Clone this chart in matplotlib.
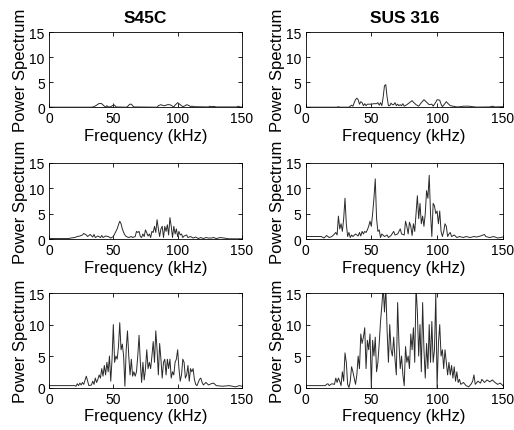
import numpy as np
import matplotlib
matplotlib.use("Agg")
import matplotlib.pyplot as plt

plt.rcParams['font.family'] = ['Liberation Sans', 'DejaVu Sans']

# S45C, top row (low level)
f_s45c_low = [0, 33, 35, 37, 39, 41, 43, 44, 45, 46, 48, 50, 51, 52, 60, 61, 62, 63, 64, 65, 66,
              84, 85, 87, 89, 90, 92, 94, 96, 97, 98, 100, 101, 103, 104, 106, 107, 109, 110, 111,
              113, 124, 125, 126, 128, 130, 146, 147, 148, 150]
p_s45c_low = [0, 0, 0.1, 0.4, 0.75, 0.7, 0.2, 0.05, 0.3, 0.05, 0.1, 0.4, 0.4, 0.05, 0, 0.1, 0.4, 0.6, 0.6, 0.3, 0.05,
              0, 0.3, 0.5, 0.3, 0.3, 0.5, 0.5, 0.2, 0.05, 0.4, 0.9, 0.7, 0.3, 0.1, 0.3, 0.5, 0.3, 0.1, 0.2,
              0.1, 0.05, 0.2, 0.1, 0.15, 0.05, 0.05, 0.2, 0.1, 0]

# SUS 316, top row (low level)
f_sus_low = [0, 24, 25, 26, 33, 35, 36, 37, 38, 39, 40, 41, 42, 43, 44, 45, 46, 47, 48, 50, 52, 54, 55,
             56, 57, 58, 59, 60, 61, 62, 63, 64, 65, 66, 67, 68, 69, 70, 71, 72, 73, 74, 75, 77, 79, 81,
             82, 84, 86, 88, 90, 92, 94, 96, 97, 99, 100, 102, 103, 104, 105, 107, 108, 110, 112, 115,
             118, 120, 124, 127, 130, 140, 142, 144, 150]
p_sus_low = [0, 0, 0.1, 0, 0, 0.4, 0.2, 0.9, 1.5, 1.8, 1.5, 0.6, 1.1, 0.9, 0.3, 0.7, 0.3, 0.6, 0.6, 0.6, 0.7, 0.7, 0.9,
             0.4, 0.9, 0.3, 2.0, 4.3, 4.5, 2.0, 0.3, 0.3, 0.8, 0.5, 0.5, 0.9, 0.3, 0.6, 0.3, 0.5, 0.3, 0.7, 0.2, 0.5, 0.9, 1.3,
             1.0, 0.5, 0.2, 0.9, 1.5, 1.0, 0.5, 0.6, 0.2, 1.0, 1.5, 1.4, 0.6, 0.1, 0.4, 1.1, 0.8, 0.3, 0.2, 0.05,
             0.1, 0.2, 0.2, 0.1, 0.02, 0.05, 0.2, 0.05, 0.1]

# S45C, middle row
f_s45c_mid = [0, 15, 17, 20, 22, 24, 26, 27, 29, 30, 32, 34, 35, 36, 38, 40, 41, 42, 44, 46, 48, 50,
              52, 53, 54, 55, 56, 57, 58, 59, 60, 62, 64, 65, 67, 68, 69, 70, 71, 72, 73, 74, 75, 76, 77,
              78, 79, 80, 81, 82, 83, 84, 85, 86, 87, 88, 89, 90, 91, 92, 93, 94, 95, 96, 97, 98, 99,
              100, 101, 102, 103, 104, 105, 107, 108, 110, 112, 114, 116, 118, 120, 122, 124, 126, 128,
              130, 133, 136, 140, 150]
p_s45c_mid = [0.1, 0.1, 0.2, 0.3, 0.5, 0.6, 0.8, 1.1, 0.8, 0.5, 0.9, 0.4, 0.9, 0.3, 0.6, 0.3, 0.7, 0.3, 0.6, 0.5, 0.2, 0.5,
              1.5, 2.0, 2.8, 3.5, 3.0, 2.0, 1.3, 0.8, 0.5, 0.3, 0.5, 0.3, 0.5, 1.5, 1.3, 1.5, 0.5, 0.3, 1.0, 0.5, 1.8, 1.2, 0.6,
              1.0, 0.3, 1.5, 1.3, 2.5, 1.3, 3.8, 2.0, 0.5, 2.0, 2.5, 0.3, 2.5, 1.5, 2.8, 0.8, 4.2, 2.5, 0.3, 2.5, 1.0, 2.0,
              0.5, 1.5, 0.8, 1.0, 0.3, 0.6, 0.8, 0.3, 0.5, 0.2, 0.4, 0.1, 0.3, 0.1, 0.3, 0.2, 0.2, 0.3,
              0.1, 0.3, 0.2, 0.05, 0.05]

# SUS 316, middle row
f_sus_mid = [0, 12, 14, 16, 18, 20, 22, 23, 24, 25, 26, 27, 28, 29, 30, 31, 32, 33, 34, 35, 36, 38, 40,
             41, 42, 43, 44, 45, 46, 47, 48, 49, 50, 51, 52, 53, 54, 55, 56, 57, 58, 60, 62, 63, 65, 67,
             68, 70, 72, 73, 75, 76, 77, 78, 79, 80, 81, 82, 83, 84, 85, 86, 87, 88, 89, 90, 91, 92, 93,
             94, 95, 96, 97, 98, 99, 100, 101, 102, 103, 104, 105, 106, 107, 108, 109, 110, 111, 113,
             115, 117, 120, 122, 125, 128, 130, 133, 136, 137, 140, 143, 146, 150]
p_sus_mid = [0.5, 0.5, 0.2, 0.7, 0.3, 0.5, 1.0, 1.3, 0.8, 4.5, 2.0, 3.0, 1.5, 4.0, 8.0, 3.0, 0.5, 1.3, 0.3, 0.8, 0.5, 1.0, 0.6,
             1.3, 0.6, 1.5, 1.0, 1.5, 1.3, 1.8, 2.5, 3.5, 2.5, 5.0, 8.0, 11.8, 4.0, 1.5, 1.8, 0.3, 1.0, 0.5, 0.8, 0.3, 0.7, 1.5,
             0.8, 1.0, 2.0, 1.0, 0.8, 3.5, 2.5, 1.0, 3.3, 2.5, 0.7, 3.0, 1.5, 5.0, 8.5, 4.0, 7.0, 3.0, 4.5, 2.5, 5.0, 9.5, 8.0,
             12.5, 5.0, 0.5, 7.0, 6.5, 5.0, 5.5, 3.0, 5.5, 1.5, 0.5, 1.5, 3.0, 2.5, 0.5, 1.0, 1.3, 0.5, 0.8,
             0.3, 0.5, 0.3, 0.5, 0.3, 0.5, 0.4, 0.6, 0.9, 0.5, 0.3, 0.5, 0.2, 0.4]

# S45C, bottom row (high level)
f_s45c_high = [0, 20, 21, 22, 23, 24, 25, 26, 27, 29, 31, 33, 34, 35, 36, 37, 38, 39, 40, 41, 42, 43,
               44, 45, 46, 47, 48, 49, 50, 51, 52, 53, 54, 55, 56, 57, 58, 59, 60, 61, 62, 63, 64, 65,
               66, 67, 68, 69, 70, 71, 72, 73, 74, 75, 76, 77, 78, 79, 80, 81, 82, 83, 84, 85, 86, 87,
               88, 89, 90, 91, 92, 93, 94, 95, 96, 97, 98, 99, 100, 101, 102, 103, 104, 105, 106, 107,
               108, 109, 110, 111, 112, 113, 114, 115, 117, 118, 119, 120, 122, 124, 126, 128, 130,
               135, 140, 145, 148, 150]
p_s45c_high = [0.3, 0.3, 0.2, 0.6, 0.3, 0.7, 0.4, 0.8, 0.5, 1.8, 0.3, 0.4, 1.0, 0.5, 1.5, 0.8, 1.3, 2.0, 1.5, 3.0, 1.8, 3.5,
               2.0, 4.0, 2.5, 5.0, 1.0, 4.5, 10.0, 4.0, 5.0, 4.5, 6.5, 10.3, 6.0, 6.9, 5.0, 0.2, 6.0, 9.0, 5.0, 2.0, 4.5, 1.8,
               2.5, 1.8, 2.5, 5.0, 8.3, 4.0, 0.8, 4.0, 1.2, 3.0, 6.0, 3.0, 4.0, 3.0, 5.0, 7.3, 4.0, 9.0, 6.0, 2.0, 7.0, 4.5,
               1.5, 4.0, 4.5, 2.0, 4.5, 3.0, 4.5, 1.5, 2.5, 2.0, 4.0, 4.5, 6.0, 3.0, 1.0, 2.0, 4.5, 4.0, 1.5, 2.0,
               3.5, 1.0, 3.0, 2.5, 3.0, 1.3, 0.5, 0.3, 1.3, 1.5, 0.8, 0.4, 0.8, 0.4, 0.6, 0.7, 0.3,
               0.2, 0.3, 0.1, 0.3, 0.2]

# SUS 316, bottom row (high level)
f_sus_high = [0, 15, 16, 17, 18, 20, 22, 23, 24, 25, 26, 27, 28, 29, 30, 31, 32, 33, 34, 35, 36, 37,
              38, 39, 40, 41, 42, 43, 44, 45, 46, 47, 48, 49, 50, 51, 52, 53, 54, 55, 56, 57, 58, 59,
              60, 61, 62, 63, 64, 65, 66, 67, 68, 69, 70, 71, 72, 73, 74, 75, 76, 77, 78, 79, 80, 81,
              82, 83, 84, 85, 86, 87, 88, 89, 90, 91, 92, 93, 94, 95, 96, 97, 98, 99, 100, 101, 102,
              103, 104, 105, 106, 107, 108, 109, 110, 111, 112, 113, 114, 115, 116, 117, 118, 120, 122,
              124, 126, 127, 128, 129, 131, 133, 134, 136, 138, 140, 142, 144, 146, 148, 150]
p_sus_high = [0.3, 0.3, 0.5, 0.6, 0.3, 0.6, 0.5, 1.5, 0.8, 1.5, 1.0, 0.3, 2.5, 1.0, 5.5, 4.0, 0.5, 0.0, 1.0, 3.3, 2.5, 1.5,
              0.5, 2.0, 5.0, 3.0, 8.5, 7.0, 8.0, 9.5, 3.0, 7.5, 6.0, 8.5, 0.0, 7.5, 5.0, 8.0, 2.5, 4.0, 7.0, 10.5, 13.0, 16.0,
              12.0, 16.0, 9.0, 4.0, 10.0, 6.0, 5.0, 8.0, 4.5, 2.0, 13.5, 7.0, 3.0, 5.0, 2.0, 0.3, 6.5, 4.0, 5.0, 3.0, 8.5, 6.0,
              9.5, 4.0, 16.0, 12.0, 5.0, 10.0, 2.5, 13.5, 6.0, 1.5, 7.0, 3.0, 10.0, 4.0, 10.5, 4.0, 6.0, 15.0, 0.0, 7.0, 10.0,
              5.0, 6.0, 3.0, 6.0, 4.0, 2.0, 4.0, 2.0, 3.5, 1.5, 3.3, 1.0, 2.5, 0.8, 1.3, 0.5, 0.8, 0.3,
              0.1, 0.6, 1.0, 2.0, 0.5, 1.0, 0.7, 1.3, 0.8, 1.2, 0.9, 1.2, 0.8, 0.5, 0.7, 0.3]

fig = plt.figure(figsize=(5.14, 4.31), dpi=100)

rows = [(0.749, 0.174), (0.443, 0.1775), (0.0986, 0.219)]
cols = [(0.0953, 0.3755), (0.5944, 0.384)]
data = [[(f_s45c_low, p_s45c_low), (f_sus_low, p_sus_low)],
        [(f_s45c_mid, p_s45c_mid), (f_sus_mid, p_sus_mid)],
        [(f_s45c_high, p_s45c_high), (f_sus_high, p_sus_high)]]
titles = ['S45C', 'SUS 316']

for r, (bot, h) in enumerate(rows):
    for c, (left, w) in enumerate(cols):
        ax = fig.add_axes([left, bot, w, h])
        f, p = data[r][c]
        ax.plot(f, p, color='#2a2a2a', lw=0.7)
        ax.set_xlim(0, 150)
        ax.set_ylim(0, 15)
        ax.set_xticks([0, 50, 100, 150])
        ax.set_yticks([0, 5, 10, 15])
        ax.tick_params(direction='in', top=True, right=True, length=3, width=0.6,
                       labelsize=10, pad=3)
        for s in ax.spines.values():
            s.set_linewidth(0.6)
        ax.set_xlabel('Frequency (kHz)', fontsize=12, labelpad=2)
        ax.set_ylabel('Power Spectrum', fontsize=12, labelpad=1)
        if r == 0:
            ax.set_title(titles[c], fontsize=12.5, fontweight='bold', pad=7)

fig.savefig('out.png', dpi=100)
